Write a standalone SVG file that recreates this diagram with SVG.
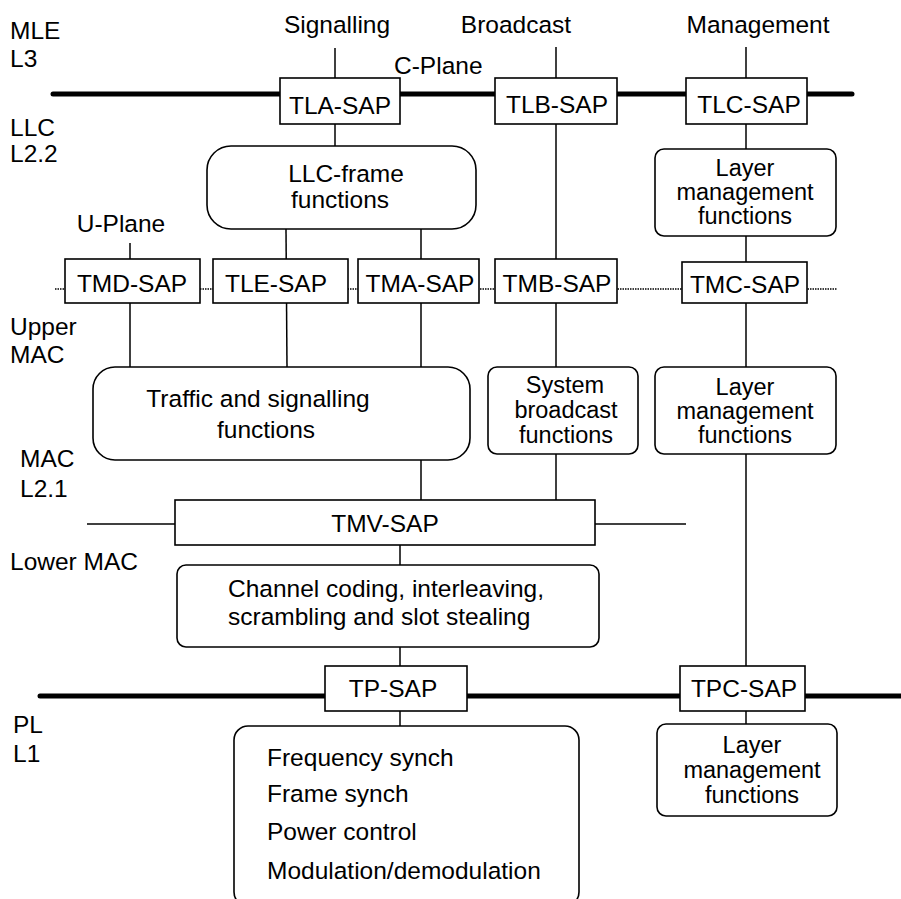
<svg xmlns="http://www.w3.org/2000/svg" width="901" height="899" viewBox="0 0 901 899">
<style>
text{font-family:"Liberation Sans",Arial,sans-serif;font-size:24.5px;fill:#000}
.c{text-anchor:middle}
.s{font-size:23.5px}
.box{fill:#fff;stroke:#000;stroke-width:1.6}
.ln{stroke:#000;stroke-width:1.5;fill:none}
.thick{stroke:#000;stroke-width:5;stroke-linecap:round;fill:none}
.dot{stroke:#000;stroke-width:1.3;stroke-dasharray:1.5 1;fill:none}
</style>
<rect width="901" height="899" fill="#fff"/>
<g id="labels">
<text x="10" y="39">MLE</text>
<text x="10" y="67">L3</text>
<text x="10" y="136">LLC</text>
<text x="10" y="162">L2.2</text>
<text x="10" y="335">Upper</text>
<text x="10" y="363">MAC</text>
<text x="20" y="467">MAC</text>
<text x="20" y="497">L2.1</text>
<text x="10" y="570">Lower MAC</text>
<text x="13" y="733">PL</text>
<text x="13" y="762">L1</text>
<text x="337" y="33" class="c">Signalling</text>
<text x="516" y="33" class="c">Broadcast</text>
<text x="758" y="33" class="c">Management</text>
<text x="394" y="74">C-Plane</text>
<text x="121" y="232" class="c">U-Plane</text>
</g>
<g id="connectors">
<line class="thick" x1="53" y1="94" x2="852" y2="94"/>
<line class="thick" x1="40" y1="696" x2="903" y2="696"/>
<line class="dot" x1="55" y1="289" x2="837" y2="289"/>
<line class="ln" x1="87" y1="524" x2="686" y2="524"/>
<line class="ln" x1="335" y1="48" x2="335" y2="146"/>
<line class="ln" x1="556" y1="47" x2="556" y2="500"/>
<line class="ln" x1="746" y1="47" x2="746" y2="724"/>
<line class="ln" x1="130" y1="243" x2="130" y2="367"/>
<line class="ln" x1="286" y1="229" x2="287" y2="367"/>
<line class="ln" x1="421" y1="229" x2="421" y2="500"/>
<line class="ln" x1="400" y1="545" x2="400" y2="726"/>
</g>
<g id="TLA-SAP"><rect class="box" x="280" y="78" width="120" height="46"/><text x="340" y="114" class="c">TLA-SAP</text></g>
<g id="TLB-SAP"><rect class="box" x="495" y="78" width="122" height="46"/><text x="557" y="113" class="c">TLB-SAP</text></g>
<g id="TLC-SAP"><rect class="box" x="686" y="78" width="121" height="46"/><text x="749" y="113" class="c">TLC-SAP</text></g>
<g id="LLC-frame"><rect class="box" x="207" y="146" width="269" height="83" rx="24"/><text x="346" y="182" class="c">LLC-frame</text><text x="340" y="208" class="c">functions</text></g>
<g id="LayerMgmt1"><rect class="box" x="655" y="149" width="181" height="87" rx="9"/><text x="745" y="176" class="c s">Layer</text><text x="745" y="200" class="c s">management</text><text x="745" y="224" class="c s">functions</text></g>
<g id="TMD-SAP"><rect class="box" x="65" y="259" width="135" height="44"/><text x="132" y="292" class="c">TMD-SAP</text></g>
<g id="TLE-SAP"><rect class="box" x="213" y="259" width="135" height="44"/><text x="276" y="292" class="c">TLE-SAP</text></g>
<g id="TMA-SAP"><rect class="box" x="358" y="259" width="121" height="44"/><text x="420" y="292" class="c">TMA-SAP</text></g>
<g id="TMB-SAP"><rect class="box" x="495" y="259" width="122" height="44"/><text x="557" y="292" class="c">TMB-SAP</text></g>
<g id="TMC-SAP"><rect class="box" x="682" y="262" width="125" height="41"/><text x="745" y="293" class="c">TMC-SAP</text></g>
<g id="Traffic"><rect class="box" x="93" y="367" width="377" height="93" rx="22"/><text x="258" y="407" class="c">Traffic and signalling</text><text x="266" y="438" class="c">functions</text></g>
<g id="SystemBroadcast"><rect class="box" x="488" y="367" width="150" height="87" rx="9"/><text x="565" y="393" class="c s">System</text><text x="566" y="418" class="c s">broadcast</text><text x="566" y="443" class="c s">functions</text></g>
<g id="LayerMgmt2"><rect class="box" x="655" y="367" width="181" height="87" rx="9"/><text x="745" y="395" class="c s">Layer</text><text x="745" y="419" class="c s">management</text><text x="745" y="443" class="c s">functions</text></g>
<g id="TMV-SAP"><rect class="box" x="175" y="500" width="420" height="45"/><text x="385" y="532" class="c">TMV-SAP</text></g>
<g id="ChannelCoding"><rect class="box" x="177" y="565" width="422" height="82" rx="9"/><text x="228" y="597">Channel coding, interleaving,</text><text x="228" y="625">scrambling and slot stealing</text></g>
<g id="TP-SAP"><rect class="box" x="325" y="666" width="142" height="45"/><text x="393" y="697" class="c">TP-SAP</text></g>
<g id="TPC-SAP"><rect class="box" x="680" y="666" width="125" height="45"/><text x="744" y="697" class="c">TPC-SAP</text></g>
<g id="LayerMgmt3"><rect class="box" x="657" y="724" width="180" height="92" rx="9"/><text x="752" y="753" class="c s">Layer</text><text x="752" y="778" class="c s">management</text><text x="752" y="803" class="c s">functions</text></g>
<g id="PhysicalFunctions"><rect class="box" x="234" y="726" width="345" height="180" rx="14"/><text x="267" y="766">Frequency synch</text><text x="267" y="802">Frame synch</text><text x="267" y="840">Power control</text><text x="267" y="879">Modulation/demodulation</text></g>
</svg>
